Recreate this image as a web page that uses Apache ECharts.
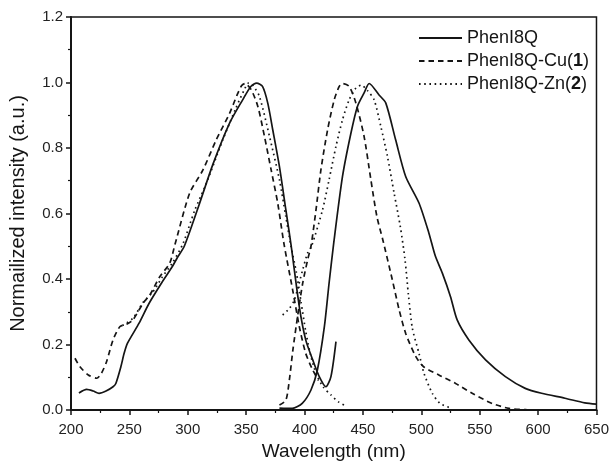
<!DOCTYPE html>
<html>
<head>
<meta charset="utf-8">
<script src="https://cdn.jsdelivr.net/npm/echarts@6/dist/echarts.min.js"></script>
<style>html,body{margin:0;padding:0;background:#fff;}#c{width:612px;height:468px;}</style>
</head>
<body>
<div id="c"></div>
<script>
const xTicks = [200, 250, 300, 350, 400, 450, 500, 550, 600, 650];
const yTicks = [0.0, 0.2, 0.4, 0.6, 0.8, 1.0, 1.2];
const names = ['PhenI8Q', 'PhenI8Q-Cu(1)', 'PhenI8Q-Zn(2)'];

// PhenI8Q absorption / emission
const ligandAbs = [[206.8,0.052],[213.4,0.063],[219,0.058],[224,0.051],[230,0.058],[236,0.071],[238.4,0.081],[242.7,0.132],[245.5,0.173],[248.4,0.204],[258.3,0.265],[266.9,0.326],[278.3,0.392],[286.8,0.438],[291,0.465],[297,0.5],[310,0.63],[321.5,0.75],[335.8,0.876],[347,0.947],[354,0.988],[359,0.998],[364,0.988],[368.5,0.937],[372.8,0.855],[378.5,0.743],[384,0.611],[388.4,0.505],[395.5,0.316],[401,0.214],[407,0.153],[412.6,0.102],[418.3,0.071],[422.6,0.102],[426.9,0.209]];
const ligandEm = [[378.5,0.006],[389.5,0.005],[398,0.02],[405.5,0.061],[411,0.122],[417,0.255],[421,0.387],[425,0.51],[432.5,0.713],[439.7,0.845],[445.3,0.927],[451,0.968],[455.3,0.997],[463.8,0.962],[469.6,0.937],[478,0.825],[486.6,0.713],[498,0.632],[506.5,0.54],[512,0.47],[518,0.418],[525,0.346],[530.7,0.275],[540.7,0.214],[555,0.153],[572,0.102],[589,0.066],[603,0.051],[623,0.036],[640,0.022],[650,0.018]];

// PhenI8Q-Cu(1)
const cuAbs = [[203.4,0.158],[207.7,0.132],[214.8,0.107],[222,0.097],[226,0.112],[230.5,0.148],[236,0.214],[242,0.255],[247.6,0.262],[253,0.275],[261.7,0.326],[267.5,0.351],[276,0.407],[284.5,0.448],[289,0.505],[301.6,0.662],[313,0.733],[324.4,0.825],[335.8,0.906],[342,0.96],[346,0.99],[349,0.997],[354.3,0.978],[360,0.927],[365.7,0.835],[371.4,0.733],[377,0.632],[382.5,0.505],[389.8,0.367],[395.5,0.255],[401,0.173],[407,0.122],[412,0.09]];
const cuEm = [[378.5,0.015],[384,0.03],[387,0.092],[390,0.183],[394,0.285],[398.4,0.387],[402.6,0.458],[405.5,0.5],[409.8,0.611],[414,0.733],[419.7,0.855],[425.4,0.947],[429.7,0.988],[432.5,0.997],[438.2,0.988],[444,0.937],[451,0.835],[456.8,0.703],[462,0.59],[467,0.52],[475,0.4],[481,0.306],[486.6,0.234],[495,0.165],[502,0.132],[515,0.107],[529,0.082],[543.5,0.051],[560.6,0.02],[575,0.005],[590,0.001],[630,0.0]];

// PhenI8Q-Zn(2)
const znAbs = [[244,0.258],[253,0.28],[262,0.33],[270,0.36],[278,0.405],[287,0.45],[296,0.509],[306,0.61],[316,0.693],[330,0.825],[341,0.92],[348,0.975],[352,0.998],[356,0.99],[361.4,0.957],[370,0.835],[378.5,0.703],[384,0.59],[388.4,0.5],[393,0.42],[397,0.33],[401,0.24],[405,0.17],[410,0.11],[416,0.07],[422.6,0.046],[429,0.025],[435.4,0.012]];
const znEm = [[381.3,0.29],[387,0.31],[391.3,0.336],[398.4,0.428],[402.6,0.479],[406,0.5],[415.4,0.611],[421,0.703],[426.9,0.805],[432.5,0.886],[438.2,0.947],[444,0.983],[448.5,0.992],[454,0.975],[459.6,0.947],[465.3,0.866],[471,0.774],[476.7,0.662],[482,0.56],[486,0.46],[489,0.35],[492.3,0.25],[498,0.173],[502.3,0.112],[509.4,0.051],[516,0.02],[523.6,0.008]];

const INK = '#151515';
const styles = [
  {type: 'solid', width: 1.7},
  {type: [5.5, 4], width: 1.7},
  {type: [1.6, 3.6], width: 1.7}
];
function mk(name, data, st) {
  return {
    name: name, type: 'line', data: data, smooth: 0.25, symbol: 'none', showSymbol: false,
    lineStyle: {color: INK, width: st.width, type: st.type, cap: 'butt'},
    itemStyle: {color: INK}, z: 3, silent: true
  };
}
const series = [
  mk(names[0], ligandAbs, styles[0]), mk(names[0], ligandEm, styles[0]),
  mk(names[1], cuAbs, styles[1]), mk(names[1], cuEm, styles[1]),
  mk(names[2], znAbs, styles[2]), mk(names[2], znEm, styles[2])
];

const chart = echarts.init(document.getElementById('c'), null, {renderer: 'canvas'});
const font = 'Liberation Sans, Arial, sans-serif';
chart.setOption({
  backgroundColor: '#fff',
  animation: false,
  textStyle: {fontFamily: font},
  grid: {left: 71, right: 14, top: 17, bottom: 58, show: true, borderColor: INK, borderWidth: 1.5, backgroundColor: 'transparent'},
  legend: {
    data: names, orient: 'vertical', left: 413, top: 24,
    itemWidth: 43, itemHeight: 14, itemGap: 5,
    itemStyle: {opacity: 0},
    textStyle: {fontSize: 18, color: INK, fontFamily: font,
      rich: {b: {fontWeight: 'bold', fontSize: 18, color: INK, fontFamily: font}}},
    formatter: function (n) { return n.replace(/\((\d)\)/, '({b|$1})'); }
  },
  xAxis: {
    type: 'value', min: xTicks[0], max: xTicks[xTicks.length - 1], interval: 50,
    name: 'Wavelength (nm)', nameLocation: 'middle', nameGap: 32,
    nameTextStyle: {fontSize: 19, color: INK, fontFamily: font},
    axisLine: {show: true, onZero: false, lineStyle: {color: INK, width: 2}},
    axisTick: {show: true, length: 5, lineStyle: {color: INK, width: 1.5}},
    minorTick: {show: true, splitNumber: 2, length: 3, lineStyle: {color: INK, width: 1.2}},
    splitLine: {show: false},
    axisLabel: {fontSize: 15, color: '#222', margin: 12, fontFamily: font}
  },
  yAxis: {
    type: 'value', min: yTicks[0], max: yTicks[yTicks.length - 1], interval: 0.2,
    name: 'Normailized intensity (a.u.)', nameLocation: 'middle', nameGap: 43,
    nameTextStyle: {fontSize: 20, color: INK, fontFamily: font},
    axisLine: {show: true, onZero: false, lineStyle: {color: INK, width: 2}},
    axisTick: {show: true, length: 5, lineStyle: {color: INK, width: 1.5}},
    minorTick: {show: true, splitNumber: 2, length: 3, lineStyle: {color: INK, width: 1.2}},
    splitLine: {show: false},
    axisLabel: {fontSize: 15, color: '#222', margin: 8, fontFamily: font,
      formatter: function (v) { return v.toFixed(1); }}
  },
  series: series
});
</script>
</body>
</html>
